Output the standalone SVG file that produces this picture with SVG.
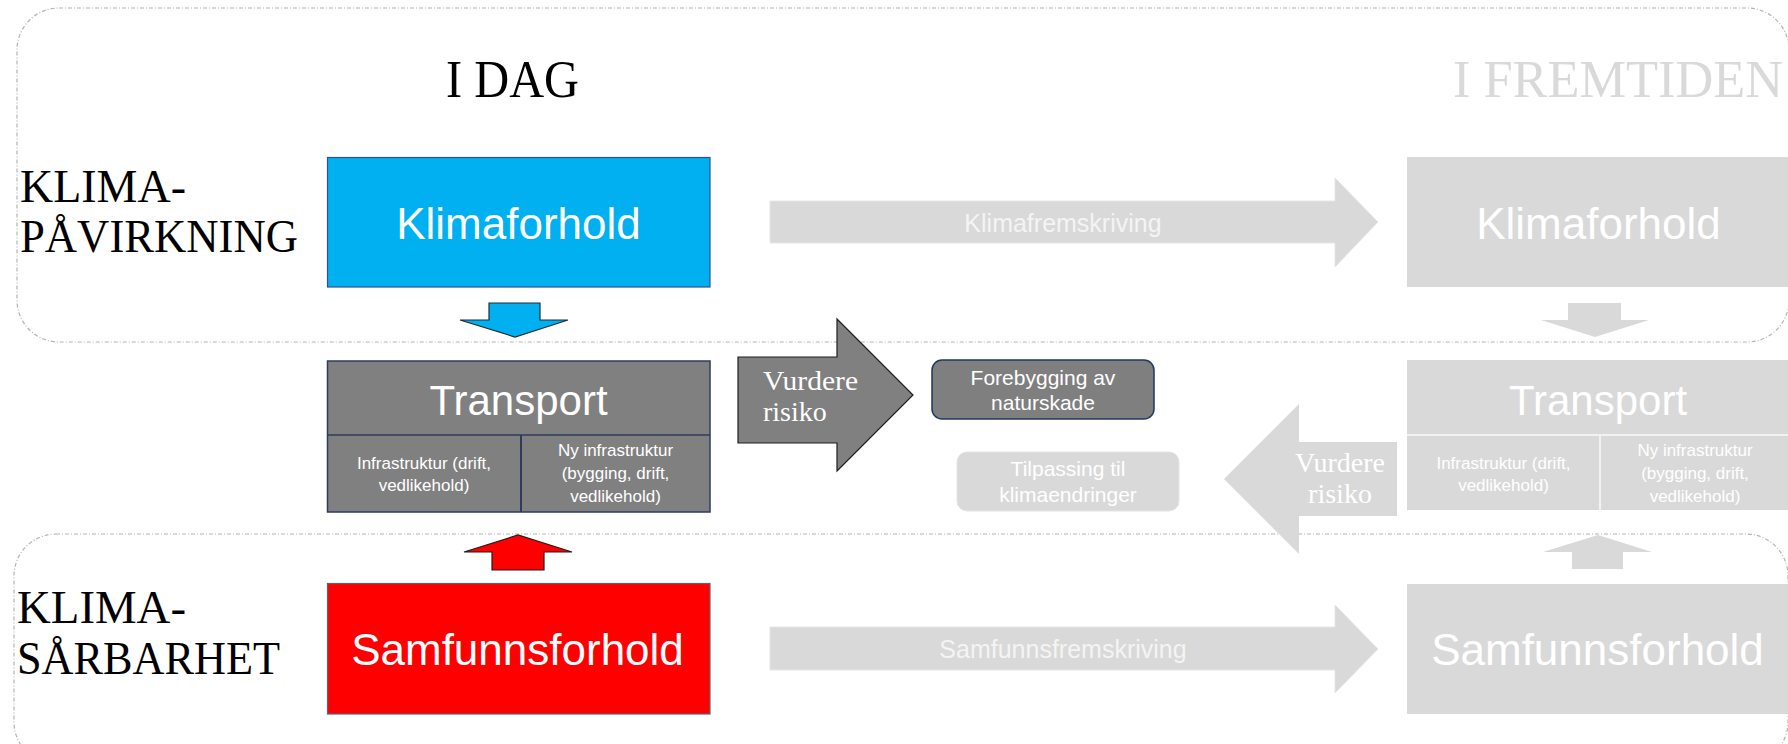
<svg xmlns="http://www.w3.org/2000/svg" width="1788" height="744" viewBox="0 0 1788 744">
<style>
.region{fill:none;stroke:#b4b4b4;stroke-width:1.2;stroke-dasharray:4 2 1 2}
.serif{font-family:"Liberation Serif","DejaVu Serif",serif}
.sans{font-family:"Liberation Sans",Arial,sans-serif}
.big{font-size:44px;fill:#ffffff;text-anchor:middle}
.small{font-size:17px;fill:#ffffff;text-anchor:middle}
.mid{font-size:21px;fill:#ffffff;text-anchor:middle}
.lbl{font-size:47px;fill:#000000}
.future{fill:#d9d9d9}
.futureline{stroke:#f2f2f2;stroke-width:2}
.darkbox{fill:#808080;stroke:#2f3b5c;stroke-width:1.5}
.arrowtxt{font-size:25px;fill:#f4f4f4;text-anchor:middle}
.vurd{font-size:28px;fill:#ffffff}
</style>

<g id="regions">
<rect class="region" x="17" y="8" width="1772" height="334" rx="42"/>
<rect class="region" x="14" y="534" width="1774" height="230" rx="42"/>
</g>

<g id="label-i-dag"><text class="serif" x="446" y="97" font-size="52" textLength="133" lengthAdjust="spacingAndGlyphs">I DAG</text></g>
<g id="label-i-fremtiden"><text class="serif" x="1453" y="97" font-size="52" fill="#d9d9d9" textLength="330" lengthAdjust="spacingAndGlyphs">I FREMTIDEN</text></g>

<g id="label-klima-pavirkning">
<text class="serif lbl" x="20" y="202" textLength="166" lengthAdjust="spacingAndGlyphs">KLIMA-</text>
<text class="serif lbl" x="20" y="252" textLength="278" lengthAdjust="spacingAndGlyphs">PÅVIRKNING</text>
</g>
<g id="label-klima-sarbarhet">
<text class="serif lbl" x="17" y="623" textLength="169" lengthAdjust="spacingAndGlyphs">KLIMA-</text>
<text class="serif lbl" x="17" y="674" textLength="263" lengthAdjust="spacingAndGlyphs">SÅRBARHET</text>
</g>

<g id="node-klimaforhold">
<rect x="327.5" y="157.5" width="382.5" height="129.5" fill="#00b0f0" stroke="#2f528f" stroke-width="1.2"/>
<text class="sans big" x="518.5" y="239">Klimaforhold</text>
</g>

<g id="node-transport">
<rect class="darkbox" x="327.5" y="361" width="382.5" height="151"/>
<line x1="327.5" y1="435" x2="710" y2="435" stroke="#2f3b5c" stroke-width="1.5"/>
<line x1="521" y1="435" x2="521" y2="512" stroke="#2f3b5c" stroke-width="2"/>
<text class="sans" x="518.5" y="415" font-size="42" fill="#ffffff" text-anchor="middle">Transport</text>
<text class="sans small" x="424" y="469">Infrastruktur (drift,</text>
<text class="sans small" x="424" y="491">vedlikehold)</text>
<text class="sans small" x="615.5" y="456">Ny infrastruktur</text>
<text class="sans small" x="615.5" y="479">(bygging, drift,</text>
<text class="sans small" x="615.5" y="502">vedlikehold)</text>
</g>

<g id="node-samfunnsforhold">
<rect x="327.5" y="583.5" width="382.5" height="130.5" fill="#ff0000" stroke="#5a6378" stroke-width="1.2"/>
<text class="sans big" x="517.5" y="665">Samfunnsforhold</text>
</g>

<g id="node-forebygging">
<rect x="932" y="360" width="222" height="59" rx="10" fill="#7f7f7f" stroke="#1f3864" stroke-width="1.5"/>
<text class="sans mid" x="1043" y="385">Forebygging av</text>
<text class="sans mid" x="1043" y="410">naturskade</text>
</g>

<g id="node-tilpassing">
<rect x="957" y="452" width="222" height="59" rx="10" fill="#d9d9d9" stroke="#e4e4e4" stroke-width="1"/>
<text class="sans mid" x="1068" y="476">Tilpassing til</text>
<text class="sans mid" x="1068" y="502">klimaendringer</text>
</g>

<g id="node-klimaforhold-future">
<rect class="future" x="1407" y="157" width="385" height="130"/>
<text class="sans big" x="1598.5" y="239">Klimaforhold</text>
</g>

<g id="node-transport-future">
<rect class="future" x="1407" y="360" width="385" height="150"/>
<line class="futureline" x1="1407" y1="435" x2="1790" y2="435"/>
<line class="futureline" x1="1600" y1="435" x2="1600" y2="510"/>
<text class="sans" x="1598" y="415" font-size="42" fill="#ffffff" text-anchor="middle">Transport</text>
<text class="sans small" x="1503.5" y="469">Infrastruktur (drift,</text>
<text class="sans small" x="1503.5" y="491">vedlikehold)</text>
<text class="sans small" x="1695" y="456">Ny infrastruktur</text>
<text class="sans small" x="1695" y="479">(bygging, drift,</text>
<text class="sans small" x="1695" y="502">vedlikehold)</text>
</g>

<g id="node-samfunnsforhold-future">
<rect class="future" x="1407" y="584" width="385" height="130"/>
<text class="sans big" x="1597.5" y="665">Samfunnsforhold</text>
</g>

<g id="connectors">
<path d="M489,303 L540,303 L540,320 L568,320 L515,337 L460,320 L489,320 Z" fill="#00b0f0" stroke="#1f2d3d" stroke-width="1.2"/>
<path d="M492,570 L544,570 L544,552 L572,552 L518,535 L464,552 L492,552 Z" fill="#ff0000" stroke="#1f1f1f" stroke-width="1.2"/>
<path d="M1568,303 L1621,303 L1621,320 L1649,320 L1595,337 L1541,320 L1568,320 Z" fill="#d9d9d9"/>
<path d="M1572,569 L1623,569 L1623,552 L1652,552 L1598,535 L1543,552 L1572,552 Z" fill="#d9d9d9"/>
<g id="arrow-vurdere-today">
<path d="M738,357 L837,357 L837,319 L913,395 L837,471 L837,443 L738,443 Z" fill="#808080" stroke="#1f1f1f" stroke-width="1.2"/>
<text class="serif vurd" x="763" y="390" textLength="95" lengthAdjust="spacingAndGlyphs">Vurdere</text>
<text class="serif vurd" x="763" y="421">risiko</text>
</g>
<g id="arrow-vurdere-future">
<path d="M1397,442 L1299,442 L1299,404 L1224,479 L1299,554 L1299,516 L1397,516 Z" fill="#d9d9d9"/>
<text class="serif vurd" x="1340" y="472" text-anchor="middle">Vurdere</text>
<text class="serif vurd" x="1340" y="503" text-anchor="middle">risiko</text>
</g>
<g id="arrow-klimafremskriving">
<path d="M770,201 L1335,201 L1335,178 L1378,222 L1335,267 L1335,243 L770,243 Z" fill="#d9d9d9" stroke="#e6e6e6" stroke-width="1"/>
<text class="sans arrowtxt" x="1063" y="232">Klimafremskriving</text>
</g>
<g id="arrow-samfunnsfremskriving">
<path d="M770,627 L1335,627 L1335,605 L1378,649 L1335,693 L1335,670 L770,670 Z" fill="#d9d9d9" stroke="#e6e6e6" stroke-width="1"/>
<text class="sans arrowtxt" x="1063" y="658">Samfunnsfremskriving</text>
</g>
</g>
</svg>
